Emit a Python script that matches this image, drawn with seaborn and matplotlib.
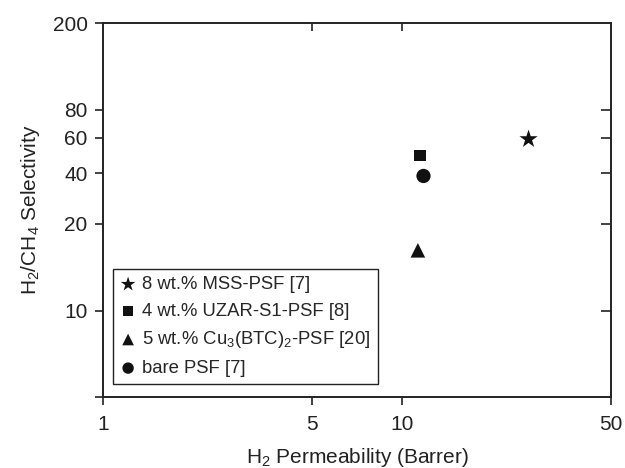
import numpy as np
import matplotlib
matplotlib.use("Agg")
import matplotlib.pyplot as plt
import seaborn as sns
from matplotlib.ticker import FixedLocator, NullLocator, FixedFormatter

# data
labels = ["8 wt.% MSS-PSF [7]",
          "4 wt.% UZAR-S1-PSF [8]",
          "5 wt.% Cu$_3$(BTC)$_2$-PSF [20]",
          "bare PSF [7]"]
permeability = [26.5, 11.5, 11.3, 11.8]
selectivity = [59, 49, 16.2, 38.5]
markers = ["*", "s", "^", "o"]
sizes = [190, 70, 110, 105]

x_ticks = [1, 5, 10, 50]
x_ticks_top = [5, 10]
y_ticks = [200, 80, 60, 40, 20, 10, 5]
y_ticklabels = ["200", "80", "60", "40", "20", "10", ""]
y_ticks_right = [80, 60, 40, 20, 10]

# the y axis of the original figure is not evenly logarithmic:
# tick values -> fraction of axis height, as measured
y_knots = [5, 10, 20, 40, 60, 80, 200]
y_frac = [0.0, 0.2304, 0.463, 0.599, 0.694, 0.769, 1.0]
log_knots = np.log10(y_knots)


def y_forward(v):
    v = np.clip(np.asarray(v, dtype=float), 1e-6, None)
    return np.interp(np.log10(v), log_knots, y_frac)


def y_inverse(t):
    return 10 ** np.interp(np.asarray(t, dtype=float), y_frac, log_knots)


sns.set_style("ticks")
plt.rcParams["font.family"] = ["Liberation Sans", "DejaVu Sans"]
plt.rcParams["mathtext.fontset"] = "custom"
plt.rcParams["mathtext.rm"] = "Liberation Sans"
plt.rcParams["mathtext.it"] = "Liberation Sans:italic"
plt.rcParams["mathtext.default"] = "regular"

ink = "#222222"
fs = 15

fig = plt.figure(figsize=(6.25, 4.68), dpi=100)
ax = fig.add_axes([0.1648, 0.1523, 0.8128, 0.7975])

for p, s, m, sz, lab in zip(permeability, selectivity, markers, sizes, labels):
    sns.scatterplot(x=[p], y=[s], marker=m, s=sz, color="#111111",
                    edgecolor="none", label=lab, ax=ax)

ax.set_xscale("log")
ax.set_yscale("function", functions=(y_forward, y_inverse))
ax.set_xlim(1, 50)
ax.set_ylim(5, 200)

ax.xaxis.set_major_locator(FixedLocator(x_ticks))
ax.xaxis.set_major_formatter(FixedFormatter([str(v) for v in x_ticks]))
ax.xaxis.set_minor_locator(NullLocator())
ax.yaxis.set_major_locator(FixedLocator(y_ticks))
ax.yaxis.set_major_formatter(FixedFormatter(y_ticklabels))
ax.yaxis.set_minor_locator(NullLocator())

for sp in ax.spines.values():
    sp.set_visible(True)
    sp.set_color(ink)
    sp.set_linewidth(1.4)

ax.tick_params(axis="both", which="major", direction="out", length=6,
               width=1.2, color=ink, labelsize=fs, labelcolor=ink)
ax.tick_params(axis="x", pad=7)
ax.tick_params(axis="y", pad=5)

# inward ticks on the right (twin sharing x)
ax_r = ax.twinx()
ax_r.set_yscale("function", functions=(y_forward, y_inverse))
ax_r.set_ylim(5, 200)
ax_r.yaxis.set_major_locator(FixedLocator(y_ticks_right))
ax_r.yaxis.set_minor_locator(NullLocator())
ax_r.tick_params(axis="y", direction="in", length=7, width=1.2, color=ink,
                 labelright=False)
for sp in ax_r.spines.values():
    sp.set_visible(False)

# inward ticks on the top (twin sharing y)
ax_t = ax.twiny()
ax_t.set_xscale("log")
ax_t.set_xlim(1, 50)
ax_t.xaxis.set_major_locator(FixedLocator(x_ticks_top))
ax_t.xaxis.set_minor_locator(NullLocator())
ax_t.tick_params(axis="x", direction="in", length=6, width=1.2, color=ink,
                 labeltop=False)
for sp in ax_t.spines.values():
    sp.set_visible(False)

ax.set_xlabel("H$_2$ Permeability (Barrer)", fontsize=fs, color=ink,
              labelpad=9)
ax.set_ylabel("H$_2$/CH$_4$ Selectivity", fontsize=fs, color=ink,
              labelpad=8)

leg = ax.legend(loc="lower left", bbox_to_anchor=(0.0203, 0.0332),
                fontsize=13.3, frameon=True, fancybox=False, shadow=False,
                markerscale=0.8, handletextpad=0.35, handlelength=0.8,
                labelspacing=0.52, borderpad=0.4, borderaxespad=0)
leg.get_frame().set_edgecolor(ink)
leg.get_frame().set_linewidth(1.0)
leg.get_frame().set_alpha(1)

fig.savefig("out.png", dpi=100, facecolor="white")
